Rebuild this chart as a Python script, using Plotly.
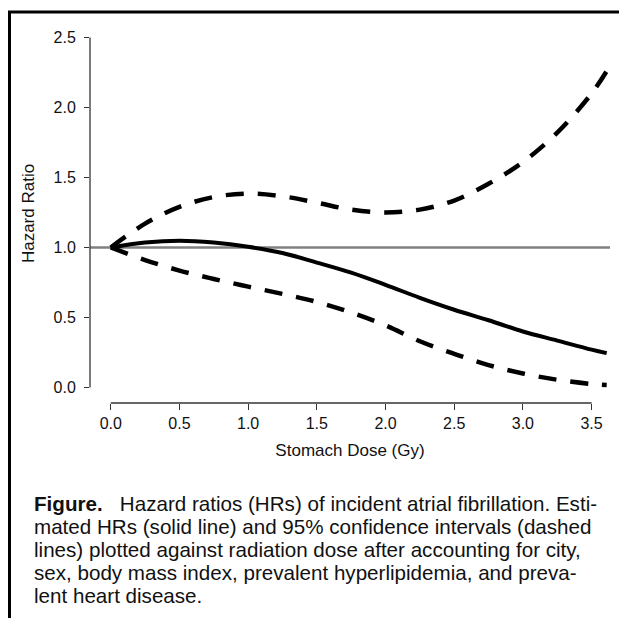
import plotly.graph_objects as go

# ---- data ----
dose = [0, 0.25, 0.5, 0.75, 1.0, 1.25, 1.5, 1.75, 2.0, 2.25, 2.5, 2.75, 3.0, 3.25, 3.5, 3.61]
hr_est = [1.0, 1.035, 1.048, 1.035, 1.005, 0.96, 0.892, 0.82, 0.733, 0.64, 0.555, 0.48, 0.40, 0.335, 0.27, 0.245]
hr_upper = [1.0, 1.17, 1.29, 1.36, 1.385, 1.365, 1.32, 1.27, 1.25, 1.27, 1.335, 1.455, 1.61, 1.82, 2.1, 2.26]
hr_lower = [1.0, 0.91, 0.835, 0.775, 0.72, 0.668, 0.611, 0.535, 0.443, 0.33, 0.24, 0.16, 0.10, 0.055, 0.025, 0.018]
x_ticks = [0, 0.5, 1.0, 1.5, 2.0, 2.5, 3.0, 3.5]
y_ticks = [0, 0.5, 1.0, 1.5, 2.0, 2.5]
reference_hr = 1.0

caption_lines = [
    "<b>Figure.</b>\u00a0\u00a0\u00a0Hazard ratios (HRs) of incident atrial fibrillation. Esti-",
    "mated HRs (solid line) and 95% confidence intervals (dashed",
    "lines) plotted against radiation dose after accounting for city,",
    "sex, body mass index, prevalent hyperlipidemia, and preva-",
    "lent heart disease.",
]

W, H = 619, 618
L, R, T, B = 90, 9, 24, 215
PW, PH = W - L - R, H - T - B


def px(xp):
    return (xp - L) / PW


def py(yp):
    return (H - B - yp) / PH


FONT = "Liberation Sans, Arial, sans-serif"
AX = "#333333"

fig = go.Figure()
fig.add_trace(go.Scatter(x=dose, y=hr_upper, mode="lines", line=dict(color="black", width=4.5, dash="18px,14px", shape="spline"), hoverinfo="skip"))
fig.add_trace(go.Scatter(x=dose, y=hr_lower, mode="lines", line=dict(color="black", width=4.5, dash="18px,14px", shape="spline"), hoverinfo="skip"))
fig.add_trace(go.Scatter(x=dose, y=hr_est, mode="lines", line=dict(color="black", width=4, shape="spline"), hoverinfo="skip"))

shapes = [
    # reference line HR = 1
    dict(type="line", xref="paper", yref="y", x0=0, x1=1, y0=reference_hr, y1=reference_hr,
         line=dict(color="#808080", width=2.5), layer="below"),
    # R-style axis lines spanning the ticks
    dict(type="line", xref="x", yref="paper", x0=min(x_ticks), x1=max(x_ticks), y0=0, y1=0,
         line=dict(color=AX, width=1.3)),
    dict(type="line", xref="paper", yref="y", x0=0, x1=0, y0=min(y_ticks), y1=max(y_ticks),
         line=dict(color=AX, width=1.3)),
    # figure frame (top and left rules)
    dict(type="line", xref="paper", yref="paper", x0=px(8), x1=px(619), y0=py(12), y1=py(12),
         line=dict(color="black", width=3)),
    dict(type="line", xref="paper", yref="paper", x0=px(9.5), x1=px(9.5), y0=py(11), y1=py(618),
         line=dict(color="black", width=3)),
]

annotations = []
for i, line in enumerate(caption_lines):
    annotations.append(dict(text=line, xref="paper", yref="paper", x=px(32), y=py(503 + 23 * i),
                            xanchor="left", yanchor="middle", align="left", showarrow=False,
                            font=dict(family=FONT, size=20.6, color="#111111")))

fig.update_layout(
    width=W, height=H,
    margin=dict(l=L, r=R, t=T, b=B),
    paper_bgcolor="white", plot_bgcolor="white",
    showlegend=False,
    font=dict(family=FONT, color="#111111"),
    shapes=shapes,
    xaxis=dict(range=[-0.151, 3.634], tickvals=x_ticks, tickformat=".1f", ticks="outside",
               ticklen=6, tickcolor=AX, tickwidth=1.3, showline=False, showgrid=False, zeroline=False,
               tickfont=dict(size=16, color="#111111"),
               title=dict(text="Stomach Dose (Gy)", font=dict(size=17), standoff=12), automargin=False),
    yaxis=dict(range=[-0.111, 2.596], tickvals=y_ticks, tickformat=".1f", ticks="outside",
               ticklen=5, tickcolor=AX, tickwidth=1.3, showline=False, showgrid=False, zeroline=False,
               tickfont=dict(size=16, color="#111111"), ticklabelstandoff=5,
               title=dict(text="Hazard Ratio", font=dict(size=17), standoff=14), automargin=False),
    annotations=annotations,
)

fig.write_html("out.html", config={"displayModeBar": False},
               post_script="document.body.style.margin='0';")
